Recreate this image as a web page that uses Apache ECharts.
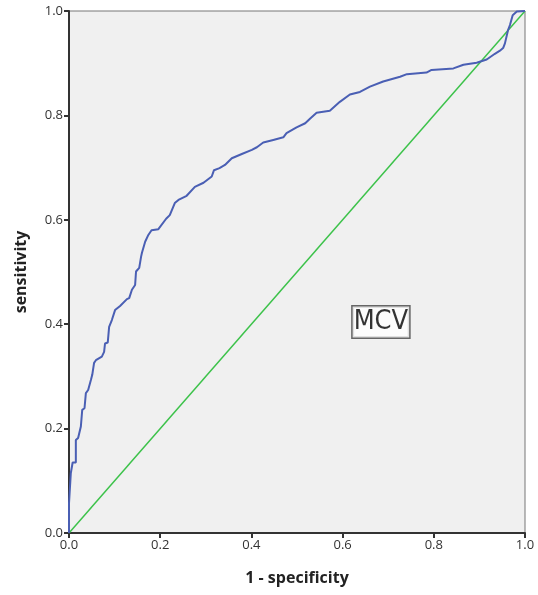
<!DOCTYPE html>
<html>
<head>
<meta charset="utf-8">
<script src="https://cdn.jsdelivr.net/npm/echarts@6/dist/echarts.min.js"></script>
<style>
  html, body { margin: 0; padding: 0; background: #fff; }
  #chart { width: 538px; height: 595px; }
</style>
</head>
<body>
<div id="chart"></div>
<script>
// ROC curve points: 1 - specificity / sensitivity
const fpr = [0, 0, 0.004, 0.004, 0.008, 0.008, 0.015, 0.015, 0.020, 0.026, 0.029, 0.029, 0.034, 0.037, 0.042, 0.048, 0.051, 0.055, 0.059, 0.072, 0.077, 0.079, 0.085, 0.088, 0.094, 0.101, 0.112, 0.127, 0.132, 0.138, 0.145, 0.147, 0.154, 0.158, 0.160, 0.167, 0.174, 0.181, 0.196, 0.213, 0.221, 0.232, 0.240, 0.258, 0.276, 0.295, 0.313, 0.318, 0.330, 0.342, 0.357, 0.379, 0.401, 0.412, 0.426, 0.448, 0.470, 0.477, 0.499, 0.518, 0.529, 0.543, 0.572, 0.594, 0.616, 0.638, 0.660, 0.689, 0.726, 0.741, 0.784, 0.795, 0.843, 0.865, 0.894, 0.916, 0.934, 0.945, 0.952, 0.956, 0.963, 0.967, 0.973, 0.982, 1];
const tpr = [0, 0.057, 0.057, 0.115, 0.115, 0.135, 0.135, 0.178, 0.182, 0.204, 0.207, 0.236, 0.239, 0.268, 0.274, 0.293, 0.303, 0.326, 0.331, 0.338, 0.347, 0.363, 0.365, 0.395, 0.408, 0.427, 0.435, 0.448, 0.450, 0.466, 0.475, 0.501, 0.508, 0.529, 0.537, 0.558, 0.571, 0.580, 0.582, 0.602, 0.609, 0.632, 0.638, 0.646, 0.663, 0.671, 0.683, 0.695, 0.699, 0.705, 0.718, 0.726, 0.734, 0.739, 0.748, 0.753, 0.758, 0.766, 0.777, 0.785, 0.794, 0.805, 0.809, 0.826, 0.840, 0.845, 0.855, 0.865, 0.874, 0.879, 0.882, 0.887, 0.890, 0.897, 0.901, 0.907, 0.918, 0.924, 0.929, 0.938, 0.964, 0.973, 0.992, 0.999, 1];
const refLine = [[0, 0], [1, 1]];
const labelText = 'MCV';
const labelPos = [0.684, 0.404];

const chart = echarts.init(document.getElementById('chart'));

const axisCommon = {
  type: 'value',
  min: 0,
  max: 1,
  interval: 0.2,
  nameLocation: 'middle',
  nameTextStyle: { fontSize: 16, fontWeight: 'bold', color: '#222', fontFamily: 'Open Sans' },
  axisLine: { show: true, lineStyle: { color: '#333', width: 2 } },
  axisTick: { show: true, length: 5, lineStyle: { color: '#333', width: 2 } },
  axisLabel: { color: '#333', fontSize: 13, fontFamily: 'Open Sans', margin: 6, formatter: v => v.toFixed(1) },
  splitLine: { show: false }
};

chart.setOption({
  animation: false,
  grid: {
    left: 69, right: 13, top: 11, bottom: 62,
    show: true,
    backgroundColor: '#f0f0f0',
    borderColor: '#777',
    borderWidth: 1
  },
  xAxis: Object.assign({}, axisCommon, {
    name: '1 - specificity',
    nameGap: 37
  }),
  yAxis: Object.assign({}, axisCommon, {
    name: 'sensitivity',
    nameGap: 40
  }),
  series: [
    {
      type: 'line',
      data: refLine,
      symbol: 'none',
      lineStyle: { color: '#3cc24a', width: 1.5 },
      z: 2
    },
    {
      type: 'line',
      data: fpr.map((x, i) => [x, tpr[i]]),
      symbol: 'none',
      lineStyle: { color: '#4a5fb4', width: 2 },
      z: 3
    },
    {
      type: 'scatter',
      data: [labelPos],
      symbolSize: 0,
      silent: true,
      label: {
        show: true,
        position: 'inside',
        formatter: labelText,
        fontSize: 27,
        color: '#000',
        fontFamily: "'DejaVu Sans Condensed', 'Liberation Sans', sans-serif",
        backgroundColor: '#fff',
        borderColor: '#444',
        borderWidth: 1.5,
        padding: [3, 1, 1, 1]
      }
    }
  ]
});
</script>
</body>
</html>
